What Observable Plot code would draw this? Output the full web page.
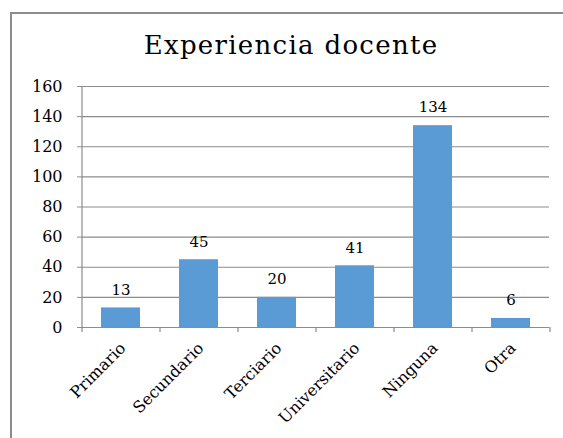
<!DOCTYPE html>
<html>
<head>
<meta charset="utf-8">
<script src="https://cdn.jsdelivr.net/npm/d3@7"></script>
<script src="https://cdn.jsdelivr.net/npm/@observablehq/plot@0.6"></script>
<style>
  html, body { margin: 0; padding: 0; background: #fff; overflow: hidden; }
  #frame { position: absolute; left: 10px; top: 12px; width: 620px; height: 520px; border: 2px solid #8c8c8c; box-sizing: border-box; }
  #title { position: absolute; left: 0; width: 582px; top: 30px; text-align: center; font-family: "DejaVu Serif", serif; font-size: 26px; letter-spacing: 1.3px; color: #000; }
  #chart { position: absolute; left: 0; top: 0; }
</style>
</head>
<body>
<div id="frame"></div>
<div id="title">Experiencia docente</div>
<div id="chart"></div>
<script>
const categories = ["Primario", "Secundario", "Terciario", "Universitario", "Ninguna", "Otra"];
const values = [13, 45, 20, 41, 134, 6];
const yTicks = [0, 20, 40, 60, 80, 100, 120, 140, 160];

const data = categories.map((c, i) => ({category: c, value: values[i]}));
const grey = "#8c8c8c";
const half = 39;

const plot = Plot.plot({
  width: 563,
  height: 438,
  marginTop: 86,
  marginBottom: 111,
  marginLeft: 81,
  marginRight: 14,
  style: {fontFamily: "DejaVu Serif, serif", background: "transparent"},
  x: {domain: categories, paddingInner: 0.5, paddingOuter: 0.25},
  y: {domain: [0, 160]},
  marks: [
    Plot.ruleY(yTicks, {stroke: grey, strokeWidth: 1.2}),
    Plot.ruleX([categories[0]], {dx: -half, y1: 0, y2: 160, stroke: grey, strokeWidth: 1.2}),
    Plot.ruleX(categories, {dx: -half, y1: -3.3, y2: 0, stroke: grey, strokeWidth: 1.2}),
    Plot.ruleX([categories[categories.length - 1]], {dx: half, y1: -3.3, y2: 0, stroke: grey, strokeWidth: 1.2}),
    Plot.barY(data, {x: "category", y: "value", fill: "#5b9bd5"}),
    Plot.text(data, {x: "category", y: "value", text: d => String(d.value), dy: -18, fontSize: 15, fill: "#000", letterSpacing: "1px"}),
    Plot.axisY({ticks: yTicks, tickSize: 4, tickPadding: 15, stroke: grey, fontSize: 16, fill: "#000", label: null, letterSpacing: "2px"}),
    Plot.axisX({tickSize: 0, tickPadding: 18, tickRotate: -45, fontSize: 16, fill: "#000", label: null, dx: 2, letterSpacing: "0.9px"})
  ]
});
document.getElementById("chart").appendChild(plot);
</script>
</body>
</html>
